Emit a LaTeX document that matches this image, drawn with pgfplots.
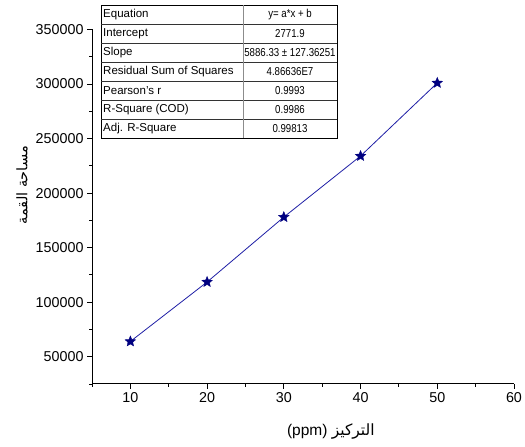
\documentclass[border=0pt]{standalone}
\usepackage{fontspec}
\setmainfont{Liberation Sans}
\newfontfamily\arabicfont[Script=Arabic]{DejaVu Sans}
\TeXXeTstate=1
\usepackage{pgfplots}
\pgfplotsset{compat=1.18}
\usepackage{pgfplotstable}

\definecolor{navyblue}{RGB}{0,0,128}
\definecolor{lineblue}{RGB}{30,30,165}
\definecolor{rulegrey}{RGB}{140,140,140}

% filled five-pointed star
\pgfdeclareplotmark{fstar}{%
  \pgfpathmoveto{\pgfpointpolar{90}{\pgfplotmarksize}}%
  \pgfpathlineto{\pgfpointpolar{126}{0.45\pgfplotmarksize}}%
  \pgfpathlineto{\pgfpointpolar{162}{\pgfplotmarksize}}%
  \pgfpathlineto{\pgfpointpolar{198}{0.45\pgfplotmarksize}}%
  \pgfpathlineto{\pgfpointpolar{234}{\pgfplotmarksize}}%
  \pgfpathlineto{\pgfpointpolar{270}{0.45\pgfplotmarksize}}%
  \pgfpathlineto{\pgfpointpolar{306}{\pgfplotmarksize}}%
  \pgfpathlineto{\pgfpointpolar{342}{0.45\pgfplotmarksize}}%
  \pgfpathlineto{\pgfpointpolar{18}{\pgfplotmarksize}}%
  \pgfpathlineto{\pgfpointpolar{54}{0.45\pgfplotmarksize}}%
  \pgfpathclose
  \pgfusepathqfillstroke
}

\pgfplotstableread{
conc area
10 64000
20 118500
30 178000
40 234000
50 301000
}\calib

\newcommand{\tabfont}{\fontsize{11.5}{13}\selectfont}
\newcommand{\sq}[1]{\scalebox{0.84}[1]{#1}}

\begin{document}
\begin{tikzpicture}[x=1pt,y=1pt]
\path[use as bounding box] (0,0) rectangle (525,447);
\begin{axis}[
  at={(92pt,63pt)}, anchor=south west,
  scale only axis, width=422pt, height=354.5pt,
  xmin=5, xmax=60, ymin=25000, ymax=350000,
  axis x line=bottom, axis y line=left,
  axis line style={-, line width=1pt},
  tick align=outside,
  xtick={10,20,...,60}, minor xtick={5,15,...,55},
  ytick={50000,100000,...,350000}, minor ytick={25000,75000,...,325000},
  major tick length=5pt, minor tick length=3pt,
  tick style={black, line width=0.9pt},
  scaled y ticks=false, scaled x ticks=false,
  /pgf/number format/fixed,
  /pgf/number format/1000 sep={},
  /pgf/number format/assume math mode=true,
  ticklabel style={font=\fontsize{14.3}{16}\selectfont},
  xlabel={(ppm) {\arabicfont\beginR التركيز\endR}},
  ylabel={\arabicfont\beginR مساحة القمة\endR},
  xlabel style={at={(axis description cs:0.566,-0.135)}, anchor=center, font=\fontsize{15.5}{17}\selectfont},
  ylabel style={at={(axis description cs:-0.166,0.561)}, anchor=center, font=\fontsize{14.5}{16}\selectfont},
  clip=false,
]
\addplot[color=lineblue, line width=0.8pt, mark=fstar, mark size=5.5pt,
  mark options={solid, fill=navyblue, draw=navyblue, line width=0.4pt}]
  table[x=conc, y=area] {\calib};
\end{axis}

% statistics table
\draw[black, line width=0.8pt] (101,309) rectangle (337,442);
\foreach \yy in {423,404,385,366,347,328}
  \draw[black!80, line width=0.6pt] (101,\yy) -- (337,\yy);
\draw[rulegrey, line width=0.6pt] (243,309) -- (243,442);
\foreach \yy/\lt/\rt in {
  432.5/Equation/{y= a*x + b},
  413.5/Intercept/{2771.9},
  394.5/Slope/{5886.33 ± 127.36251},
  375.5/Residual Sum of Squares/{4.86636E7},
  356.5/Pearson's r/{0.9993},
  337.5/R-Square (COD)/{0.9986},
  318.5/Adj. R-Square/{0.99813}} {
  \node[anchor=west, inner sep=0pt, font=\tabfont] at (103,\yy) {\lt};
  \node[anchor=center, inner sep=0pt, font=\tabfont] at (290,\yy) {\sq{\rt}};
}
\end{tikzpicture}
\end{document}
